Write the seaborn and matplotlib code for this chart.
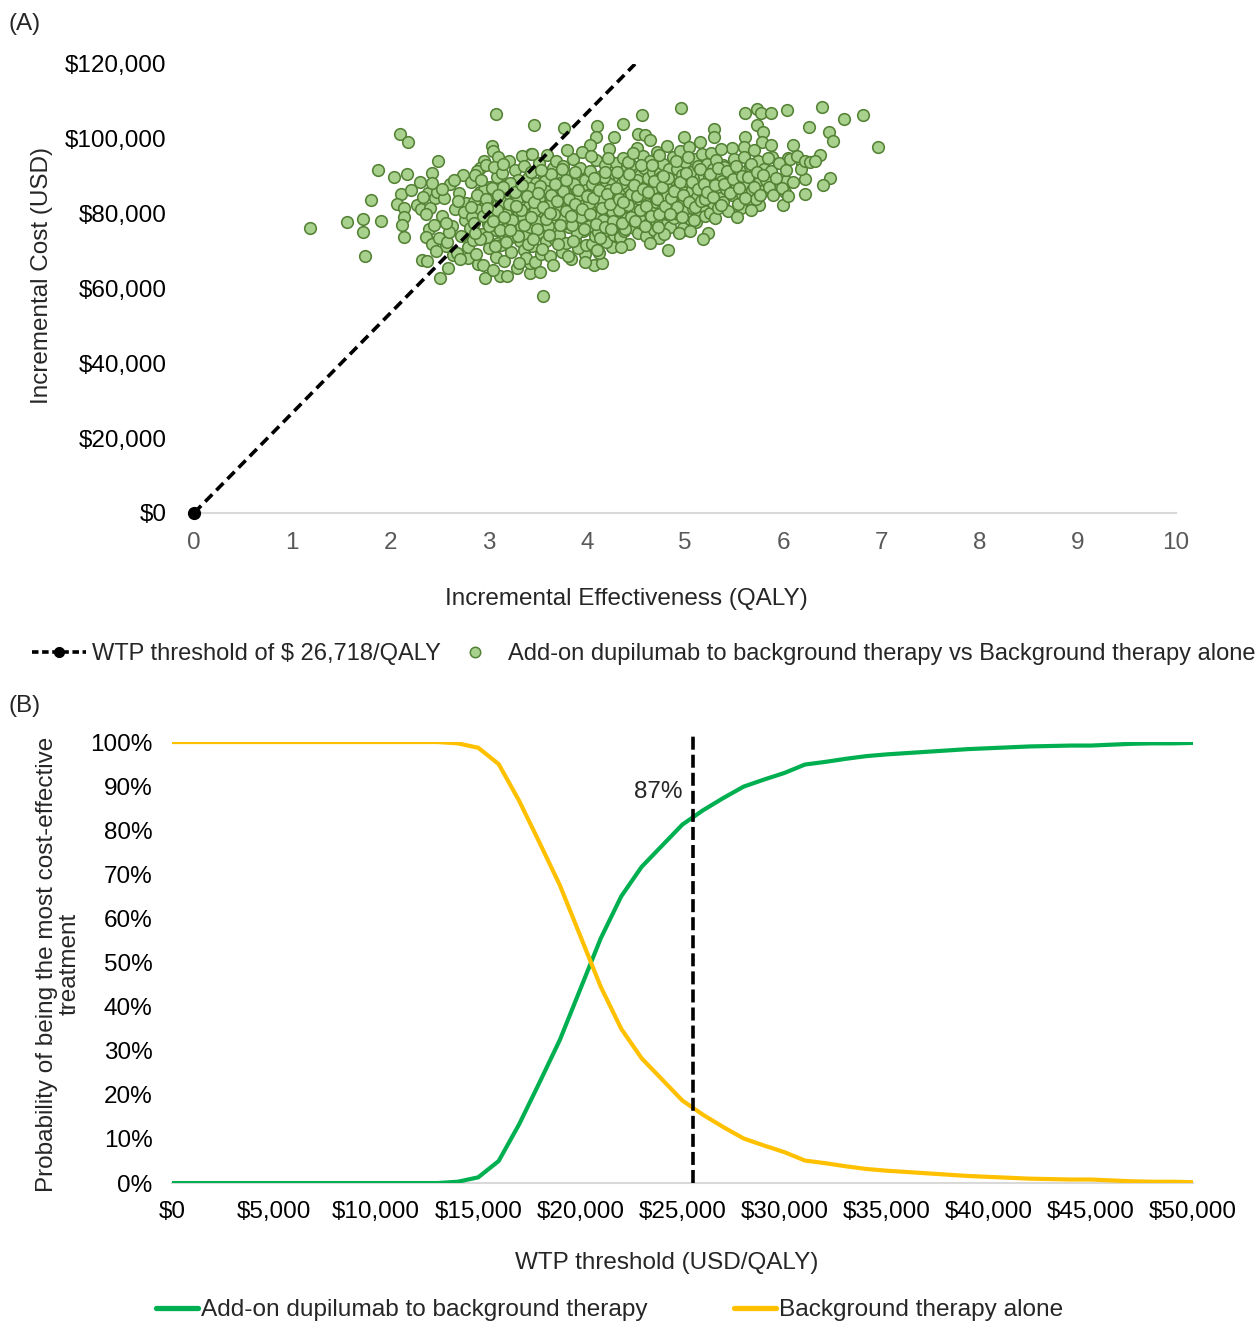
import numpy as np
import pandas as pd
import matplotlib.pyplot as plt
import seaborn as sns
from matplotlib.lines import Line2D
from matplotlib.ticker import FuncFormatter

sns.set_theme(style="white")
plt.rcParams['font.family'] = ['Liberation Sans', 'DejaVu Sans']
plt.rcParams['font.size'] = 17.5

# ====================== DATA ======================
# panel A: probabilistic sensitivity analysis cloud (QALY, cost in $1000)
wtp_threshold = 26718

outer_points = [
    (1.18, 76.2), (1.56, 77.7), (1.72, 78.6), (1.72, 75.2), (1.74, 68.8), (1.90, 78.1),
    (1.80, 83.6), (1.87, 91.6), (2.04, 89.9), (2.10, 101.2), (2.18, 99.1), (2.17, 90.7),
    (2.30, 88.5), (2.48, 94.0), (2.42, 90.9), (2.11, 85.2), (2.21, 86.2), (2.07, 82.7),
    (2.14, 81.4), (2.14, 79.0), (2.12, 77.0), (2.14, 73.8), (2.27, 82.2), (2.31, 81.2),
    (2.38, 85.6), (2.45, 84.1), (2.39, 75.9), (2.36, 73.8), (2.42, 71.9), (2.32, 67.6),
    (2.37, 67.4), (2.50, 62.7), (2.59, 65.4), (2.64, 69.0), (2.79, 68.2), (2.89, 66.5),
    (2.96, 62.8), (3.12, 63.2), (3.19, 63.4), (3.42, 64.1), (3.55, 58.1), (3.08, 106.7),
    (3.46, 103.8), (3.77, 102.8), (4.10, 103.5), (3.03, 98.1), (3.04, 96.7), (3.10, 95.1),
    (2.95, 94.1), (2.91, 92.1), (3.43, 95.9), (4.09, 100.6), (4.03, 98.3), (2.57, 71.3),
    (4.07, 66.3), (4.15, 66.9), (3.98, 69.2), (3.42, 66.8),
    (4.96, 108.3), (4.56, 106.4), (4.37, 104.0), (4.28, 100.4), (4.52, 101.4), (4.59, 101.0),
    (4.64, 99.7), (4.99, 100.6), (5.30, 102.5), (5.30, 100.6), (5.15, 99.2), (5.61, 106.8),
    (5.73, 108.0), (5.77, 106.8), (5.88, 106.8), (6.04, 107.7), (6.39, 108.4), (6.62, 105.2),
    (6.81, 106.4), (6.97, 97.9), (6.26, 103.1), (6.47, 101.9), (6.51, 99.5), (5.73, 103.7),
    (5.79, 101.9), (5.61, 100.6), (5.78, 99.2), (5.88, 98.3), (6.10, 98.3), (6.37, 95.7),
    (5.60, 97.7), (5.70, 97.0), (6.05, 94.8), (6.19, 93.6), (5.89, 95.1), (6.22, 89.3),
    (6.48, 89.6), (6.41, 87.7), (6.22, 85.3), (6.03, 88.7), (6.02, 85.8), (6.00, 82.2),
    (5.83, 87.0), (5.76, 89.2), (5.88, 88.8), (5.75, 82.3), (5.57, 81.6), (5.64, 85.4),
    (5.01, 75.6), (5.23, 74.9), (5.18, 73.3), (4.83, 70.3), (5.48, 97.5), (5.39, 93.0),
    (5.53, 87.2),
]

core_points = [
    (2.40, 81.5), (2.44, 77.0), (2.47, 85.9), (2.36, 79.8), (2.42, 88.3), (2.49, 73.6),
    (2.33, 84.4), (2.46, 69.9),
    (2.52, 79.5), (2.55, 84.1), (2.58, 72.3), (2.61, 88.0), (2.63, 76.8), (2.66, 81.2),
    (2.68, 69.4), (2.70, 85.6), (2.72, 74.1), (2.74, 90.2), (2.76, 78.3), (2.77, 82.9),
    (2.79, 71.0), (2.53, 86.7), (2.60, 75.2), (2.65, 89.1), (2.71, 67.8), (2.75, 80.4),
    (2.57, 77.6), (2.69, 83.5),
    (2.81, 76.2), (2.82, 88.5), (2.84, 72.9), (2.85, 83.0), (2.87, 69.1), (2.88, 91.4),
    (2.90, 79.8), (2.91, 85.7), (2.93, 74.6), (2.94, 66.2), (2.96, 82.1), (2.97, 93.0),
    (2.99, 77.3), (3.00, 70.8), (3.01, 87.2), (3.03, 80.5), (3.04, 64.9), (3.06, 84.4),
    (3.07, 75.5), (3.09, 89.9), (3.10, 72.1), (3.02, 78.9), (2.95, 86.3), (2.89, 81.1),
    (2.83, 79.0), (3.08, 68.3), (2.98, 73.8), (3.05, 92.4), (2.86, 90.3), (3.10, 82.6),
    (3.11, 78.4), (3.12, 85.2), (3.13, 71.7), (3.14, 90.8), (3.15, 81.9), (3.16, 67.3),
    (3.17, 76.0), (3.18, 87.6), (3.19, 83.4), (3.20, 73.2), (3.21, 94.1), (3.22, 79.1),
    (3.23, 69.8), (3.24, 86.0), (3.25, 75.1), (3.26, 82.5), (3.27, 91.7), (3.28, 77.7),
    (3.29, 65.6), (3.30, 88.9), (3.31, 80.2), (3.32, 72.6), (3.33, 84.8), (3.34, 95.3),
    (3.35, 78.9), (3.36, 70.4), (3.37, 86.9), (3.38, 81.3), (3.39, 74.3), (3.40, 89.5),
    (3.13, 83.0), (3.18, 80.0), (3.22, 88.2), (3.26, 73.9), (3.29, 84.0), (3.33, 76.7),
    (3.36, 92.6), (3.38, 68.1), (3.15, 93.4), (3.31, 66.8),
    (3.41, 82.1), (3.42, 76.4), (3.43, 91.0), (3.44, 71.3), (3.45, 85.5), (3.46, 79.6),
    (3.47, 67.0), (3.48, 88.1), (3.49, 83.7), (3.50, 74.7), (3.51, 93.5), (3.52, 80.8),
    (3.53, 69.3), (3.54, 86.4), (3.55, 77.2), (3.56, 90.0), (3.57, 82.9), (3.58, 72.8),
    (3.59, 95.6), (3.60, 79.3), (3.61, 84.6), (3.62, 68.6), (3.63, 87.8), (3.64, 75.9),
    (3.65, 81.6), (3.66, 92.3), (3.67, 73.5), (3.68, 85.0), (3.69, 78.2), (3.70, 89.2),
    (3.42, 86.8), (3.45, 80.5), (3.48, 77.9), (3.51, 84.2), (3.54, 70.5), (3.57, 88.7),
    (3.60, 76.8), (3.63, 82.3), (3.66, 66.4), (3.69, 94.0), (3.44, 96.0), (3.52, 64.4),
    (3.58, 86.1), (3.64, 90.7), (3.47, 81.0),
    (3.71, 80.9), (3.72, 74.4), (3.73, 88.3), (3.74, 83.9), (3.75, 69.7), (3.76, 92.8),
    (3.77, 78.0), (3.78, 85.9), (3.79, 72.2), (3.80, 81.4), (3.81, 90.4), (3.82, 76.3),
    (3.83, 87.0), (3.84, 67.9), (3.85, 83.2), (3.86, 94.7), (3.87, 79.4), (3.88, 73.0),
    (3.89, 86.6), (3.90, 81.8), (3.91, 70.9), (3.92, 89.6), (3.93, 77.0), (3.94, 84.3),
    (3.95, 96.4), (3.96, 75.4), (3.97, 82.7), (3.98, 88.9), (3.99, 71.6), (4.00, 79.9),
    (3.72, 85.3), (3.75, 91.9), (3.78, 77.5), (3.81, 68.8), (3.84, 82.4), (3.87, 88.0),
    (3.90, 74.9), (3.93, 92.1), (3.96, 80.1), (3.99, 86.3), (3.74, 79.2), (3.80, 96.9),
    (3.86, 72.7), (3.92, 84.9), (3.98, 67.2),
    (4.01, 85.1), (4.02, 76.6), (4.03, 91.3), (4.04, 81.0), (4.05, 71.9), (4.06, 88.2),
    (4.07, 83.6), (4.08, 74.0), (4.09, 94.4), (4.10, 79.7), (4.11, 86.8), (4.12, 69.5),
    (4.13, 82.2), (4.14, 90.1), (4.15, 77.1), (4.16, 84.7), (4.17, 73.3), (4.18, 92.9),
    (4.19, 80.3), (4.20, 87.4), (4.21, 75.6), (4.22, 83.0), (4.23, 97.2), (4.24, 78.5),
    (4.25, 89.3), (4.26, 71.2), (4.27, 85.8), (4.28, 81.5), (4.29, 76.9), (4.30, 93.6),
    (4.02, 82.8), (4.05, 87.9), (4.08, 79.0), (4.11, 75.0), (4.14, 84.1), (4.17, 89.7),
    (4.20, 72.5), (4.23, 86.2), (4.26, 80.6), (4.29, 90.6), (4.04, 95.5), (4.10, 70.2),
    (4.16, 78.2), (4.22, 94.9), (4.28, 74.3),
    (4.31, 83.3), (4.32, 77.8), (4.33, 89.8), (4.34, 73.7), (4.35, 86.5), (4.36, 80.7),
    (4.37, 95.0), (4.38, 75.3), (4.39, 84.0), (4.40, 91.6), (4.41, 78.8), (4.42, 87.1),
    (4.43, 72.0), (4.44, 82.0), (4.45, 93.1), (4.46, 79.5), (4.47, 85.4), (4.48, 76.1),
    (4.49, 88.6), (4.50, 83.8), (4.51, 97.6), (4.52, 74.8), (4.53, 81.7), (4.54, 90.3),
    (4.55, 77.4), (4.56, 86.0), (4.57, 80.0), (4.58, 92.2), (4.59, 84.5), (4.60, 73.9),
    (4.33, 80.9), (4.36, 88.1), (4.39, 76.0), (4.42, 93.8), (4.45, 85.2), (4.48, 81.2),
    (4.51, 89.0), (4.54, 78.3), (4.57, 95.4), (4.60, 87.3), (4.35, 71.0), (4.47, 96.2),
    (4.61, 82.6), (4.62, 89.4), (4.63, 77.6), (4.64, 94.2), (4.65, 85.6), (4.66, 80.4),
    (4.67, 91.2), (4.68, 75.7), (4.69, 87.7), (4.70, 83.1), (4.71, 96.6), (4.72, 79.1),
    (4.73, 86.4), (4.74, 73.4), (4.75, 90.8), (4.76, 84.2), (4.77, 81.0), (4.78, 93.3),
    (4.79, 77.0), (4.80, 88.3), (4.81, 85.0), (4.82, 98.0), (4.83, 80.2), (4.84, 91.9),
    (4.85, 76.5), (4.86, 87.0), (4.87, 83.5), (4.88, 95.1), (4.89, 78.7), (4.90, 89.0),
    (4.64, 72.2), (4.70, 78.1), (4.76, 89.9), (4.82, 84.8), (4.88, 81.9), (4.67, 86.9),
    (4.73, 95.8), (4.79, 74.6),
    (4.91, 84.6), (4.92, 92.0), (4.93, 79.8), (4.94, 87.5), (4.95, 96.8), (4.96, 82.3),
    (4.97, 90.4), (4.98, 76.2), (4.99, 85.9), (5.00, 93.7), (5.01, 80.8), (5.02, 88.8),
    (5.03, 83.9), (5.04, 97.9), (5.05, 78.6), (5.06, 91.1), (5.07, 86.2), (5.08, 81.4),
    (5.09, 94.5), (5.10, 88.0), (5.11, 77.7), (5.12, 84.4), (5.13, 92.7), (5.14, 80.5),
    (5.15, 89.6), (5.16, 86.7), (5.17, 95.9), (5.18, 82.0), (5.19, 90.0), (5.20, 79.3),
    (4.94, 74.8), (5.05, 75.3),
    (5.21, 87.3), (5.22, 93.2), (5.23, 83.6), (5.24, 89.9), (5.25, 80.1), (5.26, 96.1),
    (5.27, 85.5), (5.28, 91.8), (5.29, 82.8), (5.30, 88.4), (5.31, 78.9), (5.32, 94.3),
    (5.33, 86.0), (5.34, 81.6), (5.35, 90.9), (5.36, 84.1), (5.37, 97.3), (5.38, 88.7),
    (5.39, 83.0), (5.40, 92.4), (5.42, 86.6), (5.44, 80.7), (5.46, 90.2), (5.48, 84.9),
    (5.50, 94.6),
    (5.52, 87.8), (5.54, 82.5), (5.56, 91.5), (5.58, 85.3), (5.60, 95.2), (5.62, 88.2),
    (5.64, 83.8), (5.66, 92.6), (5.68, 86.3), (5.70, 90.5), (5.72, 84.0), (5.74, 94.0),
    (5.76, 88.9), (5.78, 86.0), (5.80, 92.0), (5.82, 89.1), (5.84, 95.0), (5.86, 87.0),
    (5.88, 91.3), (5.53, 79.0), (5.67, 80.9), (5.90, 85.0),
    (5.93, 89.5), (5.96, 93.6), (5.99, 86.8), (6.03, 91.6), (6.07, 94.6), (6.10, 88.4),
    (6.14, 95.3), (6.18, 92.0), (6.22, 94.2), (6.27, 93.7), (6.32, 94.0), (6.05, 84.6),
]

# extra points filling the densest part of the cloud
dense_points = [
    (2.82, 81.7), (2.85, 77.4), (2.88, 85.0), (2.91, 73.3), (2.94, 79.4), (2.97, 83.8),
    (3.00, 76.6), (3.03, 86.9), (3.06, 71.4), (3.09, 80.9), (3.12, 75.6), (3.15, 87.1),
    (3.18, 72.4), (3.21, 82.7), (3.24, 78.3), (3.27, 85.7), (3.30, 74.0), (3.33, 81.1),
    (3.36, 77.0), (3.39, 84.6), (2.86, 74.7), (2.92, 88.9), (2.98, 81.4), (3.04, 78.1),
    (3.10, 84.9), (3.16, 79.0), (3.22, 75.7), (3.28, 82.0), (3.34, 87.6), (3.40, 71.9),
    (3.43, 79.0), (3.46, 83.0), (3.49, 76.0), (3.52, 87.3), (3.55, 81.9), (3.58, 78.5),
    (3.61, 74.4), (3.64, 84.9), (3.67, 79.9), (3.70, 83.4), (3.73, 77.0), (3.76, 86.0),
    (3.79, 80.6), (3.82, 84.0), (3.85, 76.9), (3.88, 82.6), (3.91, 86.4), (3.94, 79.0),
    (3.97, 75.8), (4.00, 84.7), (3.45, 73.1), (3.53, 91.6), (3.62, 80.2), (3.71, 72.0),
    (3.79, 89.0), (3.88, 91.0), (3.95, 81.2), (3.50, 85.4), (3.68, 88.0), (3.84, 79.5),
    (4.03, 80.0), (4.06, 84.2), (4.09, 77.3), (4.12, 86.3), (4.15, 81.4), (4.18, 76.4),
    (4.21, 85.3), (4.24, 82.5), (4.27, 78.1), (4.30, 86.8), (4.33, 84.0), (4.36, 77.6),
    (4.39, 89.3), (4.42, 82.3), (4.45, 79.0), (4.48, 87.6), (4.51, 84.6), (4.54, 80.9),
    (4.57, 86.7), (4.60, 82.1), (4.07, 89.6), (4.13, 73.6), (4.19, 91.2), (4.25, 75.8),
    (4.31, 91.0), (4.37, 83.1), (4.43, 90.6), (4.49, 78.0), (4.55, 93.0), (4.59, 76.6),
    (4.62, 85.8), (4.65, 79.3), (4.68, 88.7), (4.71, 83.8), (4.74, 80.0), (4.77, 87.2),
    (4.80, 82.0), (4.83, 89.5), (4.86, 84.1), (4.89, 86.1), (4.92, 81.7), (4.95, 88.4),
    (4.98, 84.9), (5.01, 90.9), (5.04, 83.2), (5.07, 88.5), (5.10, 81.9), (5.13, 86.5),
    (5.16, 83.3), (5.19, 87.9), (4.66, 92.9), (4.72, 76.4), (4.78, 90.0), (4.85, 79.8),
    (4.91, 94.0), (4.97, 79.0), (5.03, 95.2), (5.09, 78.2), (5.15, 92.0), (5.20, 84.0),
    (5.22, 85.9), (5.25, 90.7), (5.28, 84.4), (5.31, 87.6), (5.34, 92.3), (5.37, 82.4),
    (5.40, 88.0), (5.43, 91.4), (5.46, 85.6), (5.49, 89.3), (5.52, 92.8), (5.55, 86.8),
    (5.58, 90.1), (5.61, 84.2), (5.64, 89.8), (5.67, 93.2), (5.70, 87.2), (5.73, 91.0),
    (5.76, 85.1), (5.79, 90.4),
]

# panel B: cost-effectiveness acceptability curves (%)
wtp_values = list(range(0, 51000, 1000))
p_dupilumab = [0, 0, 0, 0, 0, 0, 0, 0, 0, 0, 0, 0, 0, 0, 0.3, 1.3, 5.0, 13.3, 22.8, 32.5,
               44.0, 55.5, 65.0, 71.7, 76.5, 81.3, 84.5, 87.3, 89.9, 91.5, 93.0, 94.9, 95.5,
               96.2, 96.8, 97.2, 97.5, 97.8, 98.1, 98.4, 98.6, 98.8, 99.0, 99.1, 99.2, 99.2,
               99.4, 99.6, 99.7, 99.7, 99.8]
p_background = [100, 100, 100, 100, 100, 100, 100, 100, 100, 100, 100, 100, 100, 100, 99.7,
                98.7, 95.0, 86.7, 77.2, 67.5, 56.0, 44.5, 35.0, 28.3, 23.5, 18.7, 15.5, 12.7,
                10.1, 8.5, 7.0, 5.1, 4.5, 3.8, 3.2, 2.8, 2.5, 2.2, 1.9, 1.6, 1.4, 1.2, 1.0,
                0.9, 0.8, 0.8, 0.6, 0.4, 0.3, 0.3, 0.2]
wtp_marker = 25500
label_87 = '87%'

GREEN = '#00B050'
YELLOW = '#FFC000'
FILL = '#A9D18E'
EDGE = '#548235'
AXIS_GREY = '#D9D9D9'
FS = 17.5

cloud = pd.DataFrame(outer_points + core_points + dense_points, columns=['qaly', 'cost_k'])
cloud['cost'] = cloud['cost_k'] * 1000
ceac = pd.DataFrame({'wtp': wtp_values, 'dup': p_dupilumab, 'bg': p_background})

fig = plt.figure(figsize=(12.56, 13.22), dpi=100)

# ====================== PANEL A ======================
axA = fig.add_axes([0.1545, 0.6120, 0.7818, 0.3396])
sns.scatterplot(data=cloud, x='qaly', y='cost', ax=axA, s=70, color=FILL,
                edgecolor=EDGE, linewidth=1.15, legend=False, zorder=3)
line_x = [0, 120000 / wtp_threshold]
axA.plot(line_x, [0, 120000], color='black', lw=2.6, ls=(0, (2.8, 1.6)), zorder=4)
axA.plot([0], [0], 'o', color='black', ms=8.5, zorder=5, clip_on=False)

axA.set_xlim(0, 10)
axA.set_ylim(0, 120000)
axA.set_xticks(range(0, 11))
axA.set_yticks(range(0, 120001, 20000))
axA.yaxis.set_major_formatter(FuncFormatter(lambda v, p: f'${v:,.0f}'))
axA.tick_params(axis='x', length=0, pad=14, labelsize=FS, labelcolor='#595959')
axA.tick_params(axis='y', length=0, pad=20, labelsize=FS, labelcolor='black')
for s in ['top', 'right', 'left']:
    axA.spines[s].set_visible(False)
axA.spines['bottom'].set_color(AXIS_GREY)
axA.spines['bottom'].set_linewidth(1.5)
axA.set_xlabel('')
axA.set_ylabel('')

fig.text(626 / 1256, 1 - 599 / 1322, 'Incremental Effectiveness (QALY)',
         ha='center', va='center', fontsize=FS)
fig.text(42 / 1256, 1 - 276 / 1322, 'Incremental Cost (USD)', rotation=90,
         ha='center', va='center', fontsize=FS)
fig.text(8 / 1256, 1 - 24 / 1322, '(A)', ha='left', va='center', fontsize=FS)

legA = [
    Line2D([], [], color='black', lw=2.6, ls=(0, (1.8, 1.0)), marker='o', ms=7),
    Line2D([], [], ls='none', marker='o', ms=7.5, mfc=FILL, mec=EDGE, mew=1.1),
]
fig.legend(legA, ['WTP threshold of $ 26,718/QALY',
                  'Add-on dupilumab to background therapy vs Background therapy alone'],
           loc='center', bbox_to_anchor=(644 / 1256, 1 - 654 / 1322), ncol=2,
           frameon=False, fontsize=17, handlelength=2.3, handletextpad=0.25,
           columnspacing=0.3, borderpad=0, borderaxespad=0)

# ====================== PANEL B ======================
axB = fig.add_axes([0.1369, 0.1051, 0.8129, 0.3336])
sns.lineplot(data=ceac, x='wtp', y='dup', ax=axB, color=GREEN, lw=3, zorder=3)
sns.lineplot(data=ceac, x='wtp', y='bg', ax=axB, color=YELLOW, lw=3, zorder=3)
axB.plot([wtp_marker, wtp_marker], [0, 102.3], color='black', lw=2.6,
         ls=(0, (3.6, 1.4)), zorder=4, clip_on=False)
axB.annotate(label_87, xy=(wtp_marker, 88.7), xytext=(-7, 0), textcoords='offset points',
             ha='right', va='center', fontsize=FS)

axB.set_xlim(0, 50000)
axB.set_ylim(0, 100)
axB.set_xticks(range(0, 50001, 5000))
axB.set_yticks(range(0, 101, 10))
axB.xaxis.set_major_formatter(FuncFormatter(lambda v, p: f'${v:,.0f}'))
axB.yaxis.set_major_formatter(FuncFormatter(lambda v, p: f'{v:.0f}%'))
axB.tick_params(axis='x', length=0, pad=13, labelsize=FS, labelcolor='black')
axB.tick_params(axis='y', length=0, pad=14, labelsize=FS, labelcolor='black')
for s in ['top', 'right', 'left']:
    axB.spines[s].set_visible(False)
axB.spines['bottom'].set_color(AXIS_GREY)
axB.spines['bottom'].set_linewidth(1.5)
axB.set_xlabel('')
axB.set_ylabel('')

fig.text(667 / 1256, 1 - 1263 / 1322, 'WTP threshold (USD/QALY)',
         ha='center', va='center', fontsize=FS)
fig.text(58 / 1256, 1 - 964 / 1322, 'Probability of being the most cost-effective\ntreatment',
         rotation=90, ha='center', va='center', ma='center', fontsize=FS, linespacing=1.05)
fig.text(8 / 1256, 1 - 706 / 1322, '(B)', ha='left', va='center', fontsize=FS)

legB = [Line2D([], [], color=GREEN, lw=3.8), Line2D([], [], color=YELLOW, lw=3.8)]
fig.legend(legB, ['Add-on dupilumab to background therapy', 'Background therapy alone'],
           loc='center', bbox_to_anchor=(609.5 / 1256, 1 - 1310 / 1322), ncol=2,
           frameon=False, fontsize=17.6, handlelength=1.75, handletextpad=0.12,
           columnspacing=3.5, borderpad=0, borderaxespad=0)

fig.savefig('out.png', dpi=100)
